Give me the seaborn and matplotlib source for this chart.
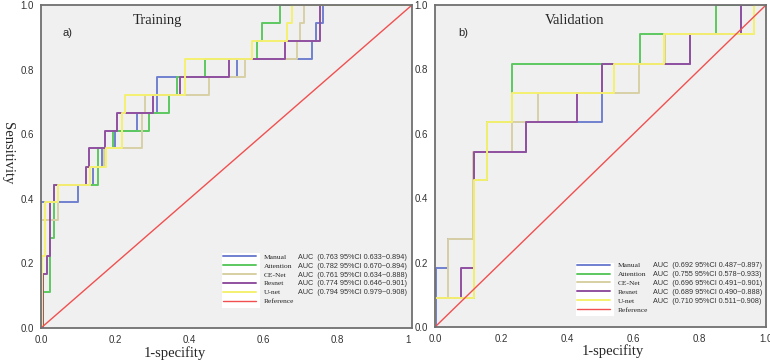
import numpy as np
import pandas as pd
import matplotlib
matplotlib.use("Agg")
import matplotlib.pyplot as plt
import seaborn as sns
from matplotlib.patches import Rectangle
from matplotlib.transforms import Bbox, TransformedBbox

# ---------------- data ----------------
models = ["Manual", "Attention", "CE-Net", "Resnet", "U-net"]

# Training ROC corner points (fpr, tpr) – steps-post
manual_tr_fpr = [0, 0, 0.099, 0.141, 0.165, 0.200, 0.260, 0.312, 0.527, 0.730, 0.742, 0.761, 1.0]
manual_tr_tpr = [0, 0.389, 0.444, 0.500, 0.556, 0.611, 0.667, 0.778, 0.833, 0.889, 0.944, 1.0, 1.0]
attention_tr_fpr = [0, 0, 0.024, 0.036, 0.153, 0.195, 0.291, 0.346, 0.366, 0.442, 0.581, 0.595, 0.644, 1.0]
attention_tr_tpr = [0, 0.111, 0.278, 0.444, 0.556, 0.611, 0.667, 0.722, 0.778, 0.833, 0.889, 0.944, 1.0, 1.0]
cenet_tr_fpr = [0, 0, 0.047, 0.132, 0.171, 0.271, 0.280, 0.454, 0.550, 0.689, 0.698, 0.709, 1.0]
cenet_tr_tpr = [0, 0.333, 0.444, 0.500, 0.556, 0.667, 0.722, 0.778, 0.833, 0.889, 0.944, 1.0, 1.0]
resnet_tr_fpr = [0, 0.006, 0.015, 0.024, 0.035, 0.121, 0.130, 0.173, 0.206, 0.303, 0.375, 0.508, 0.658, 0.752, 1.0]
resnet_tr_tpr = [0, 0.167, 0.222, 0.389, 0.444, 0.500, 0.556, 0.611, 0.667, 0.722, 0.778, 0.833, 0.889, 1.0, 1.0]
unet_tr_fpr = [0, 0.003, 0.011, 0.047, 0.132, 0.175, 0.217, 0.226, 0.388, 0.570, 0.662, 0.677, 1.0]
unet_tr_tpr = [0, 0.222, 0.389, 0.444, 0.500, 0.556, 0.667, 0.722, 0.833, 0.889, 0.944, 1.0, 1.0]

# Validation ROC corner points
manual_va_fpr = [0, 0.003, 0.040, 0.119, 0.274, 0.504, 0.770, 0.923, 1.0]
manual_va_tpr = [0, 0.182, 0.273, 0.545, 0.636, 0.818, 0.909, 1.0, 1.0]
attention_va_fpr = [0, 0, 0.119, 0.158, 0.234, 0.619, 0.849, 1.0]
attention_va_tpr = [0, 0.091, 0.455, 0.636, 0.818, 0.909, 1.0, 1.0]
cenet_va_fpr = [0, 0, 0.040, 0.116, 0.234, 0.310, 0.617, 0.695, 0.964, 1.0]
cenet_va_tpr = [0, 0.091, 0.273, 0.545, 0.636, 0.727, 0.818, 0.909, 1.0, 1.0]
resnet_va_fpr = [0, 0, 0.080, 0.119, 0.274, 0.428, 0.504, 0.770, 0.923, 1.0]
resnet_va_tpr = [0, 0.091, 0.182, 0.545, 0.636, 0.727, 0.818, 0.909, 1.0, 1.0]
unet_va_fpr = [0, 0, 0.119, 0.158, 0.234, 0.542, 0.693, 0.964, 1.0]
unet_va_tpr = [0, 0.091, 0.455, 0.636, 0.727, 0.818, 0.909, 1.0, 1.0]

ref_x = [0, 1]
ref_y = [0, 1]

auc_train = ["AUC  (0.763 95%CI 0.633~0.894)", "AUC  (0.782 95%CI 0.670~0.894)",
             "AUC  (0.761 95%CI 0.634~0.888)", "AUC  (0.774 95%CI 0.646~0.901)",
             "AUC  (0.794 95%CI 0.979~0.908)"]
auc_valid = ["AUC  (0.692 95%CI 0.487~0.897)", "AUC  (0.755 95%CI 0.578~0.933)",
             "AUC  (0.696 95%CI 0.491~0.901)", "AUC  (0.689 95%CI 0.490~0.888)",
             "AUC  (0.710 95%CI 0.511~0.908)"]

ticks = [0.0, 0.2, 0.4, 0.6, 0.8, 1.0]
tick_labels = ["0.0", "0.2", "0.4", "0.6", "0.8", "1.0"]

colors = {"Manual": "#7080d0", "Attention": "#5cc860", "CE-Net": "#d8d0a4",
          "Resnet": "#9050a0", "U-net": "#f4f070", "Reference": "#f05050"}

train = {"Manual": (manual_tr_fpr, manual_tr_tpr), "Attention": (attention_tr_fpr, attention_tr_tpr),
         "CE-Net": (cenet_tr_fpr, cenet_tr_tpr), "Resnet": (resnet_tr_fpr, resnet_tr_tpr),
         "U-net": (unet_tr_fpr, unet_tr_tpr)}
valid = {"Manual": (manual_va_fpr, manual_va_tpr), "Attention": (attention_va_fpr, attention_va_tpr),
         "CE-Net": (cenet_va_fpr, cenet_va_tpr), "Resnet": (resnet_va_fpr, resnet_va_tpr),
         "U-net": (unet_va_fpr, unet_va_tpr)}


def to_df(d):
    rows = []
    for m in models:
        fx, ty = d[m]
        for a, b in zip(fx, ty):
            rows.append({"model": m, "fpr": a, "tpr": b})
    return pd.DataFrame(rows)


sns.set_style("white")
plt.rcParams["font.family"] = ["DejaVu Sans"]
SERIF = ["Liberation Serif", "DejaVu Serif"]
SANS = ["Liberation Sans", "DejaVu Sans"]

fig = plt.figure(figsize=(7.7, 3.61), dpi=100)
W, H = 770, 361
ax1 = fig.add_axes([41 / W, 1 - 328 / H, 371 / W, 323 / H])
ax2 = fig.add_axes([435 / W, 1 - 327 / H, 331 / W, 322 / H])

panels = [
    (ax1, train, auc_train, "Training", "a)", 0.315, 0.057, (0.490, 0.231), (0.487, 0.061, 0.103, 0.172), 298),
    (ax2, valid, auc_valid, "Validation", "b)", 0.423, 0.069, (0.428, 0.202), (0.426, 0.035, 0.115, 0.165), 652.7),
]

leg_info = []
for ax, data, aucs, title, tag, tx, tagx, leg_anchor, rect, auc_x in panels:
    ax.set_facecolor("#f0f0f0")
    df = to_df(data)
    sns.lineplot(data=df, x="fpr", y="tpr", hue="model", hue_order=models,
                 palette=colors, estimator=None, sort=False, drawstyle="steps-post",
                 linewidth=1.4, legend=False, ax=ax)
    sns.lineplot(x=ref_x, y=ref_y, color=colors["Reference"], linewidth=1.0, ax=ax)
    ax.set_xlim(0, 1)
    ax.set_ylim(0, 1)
    ax.set_xticks(ticks)
    ax.set_xticklabels(tick_labels, fontfamily=SANS, fontsize=7, color="#333333")
    ax.set_yticks(ticks)
    ax.set_yticklabels(tick_labels, fontfamily=SANS, fontsize=7, color="#333333")
    ax.tick_params(axis="both", direction="out", length=3.5, width=0.9, color="#555555", pad=1.5)
    for s in ax.spines.values():
        s.set_color("#707070")
        s.set_linewidth(1.3)
    ax.set_xlabel("1-specifity", fontfamily=SERIF, fontsize=10.5)
    ax.set_ylabel("")
    ax.text(tx, 0.953, title, ha="center", va="center", fontfamily=SERIF, fontsize=10.5)
    ax.text(tagx, 0.913, tag, ha="left", va="center", fontfamily=SANS, fontsize=8)

    # legend
    ax.add_patch(Rectangle((rect[0], rect[1]), rect[2], rect[3], transform=ax.transAxes,
                           facecolor="white", edgecolor="none", zorder=4))
    handles = ax.get_lines()[:6]
    labels = models + ["Reference"]
    leg = ax.legend(handles, labels, loc="upper left", bbox_to_anchor=leg_anchor,
                    frameon=False, borderpad=0, borderaxespad=0,
                    handlelength=4.4, handletextpad=1.1, labelspacing=0.36,
                    prop={"family": SERIF, "size": 5.4})
    leg.set_zorder(5)
    leg_info.append((leg, aucs, auc_x))

ax1.xaxis.set_label_coords(0.361, -0.055)
ax2.xaxis.set_label_coords(0.538, -0.055)
ax1.set_ylabel("Sensitivity", fontfamily=SERIF, fontsize=10.5, rotation=270)
ax1.yaxis.set_label_coords(-0.108, 0.54)

fig.canvas.draw()
for leg, aucs, auc_x in leg_info:
    texts = leg.get_texts()
    for t, s in zip(texts[:5], aucs):
        bb = t.get_window_extent()
        yc = (bb.y0 + bb.y1) / 2
        fig.text(auc_x / W, yc / fig.bbox.height, s, ha="left", va="center",
                 fontfamily=SANS, fontsize=5.2, color="#333333", zorder=6)

clip = TransformedBbox(Bbox([[0, 0], [411 / W, 1]]), fig.transFigure)
for lbl in ax1.get_xticklabels():
    lbl.set_clip_on(True)
    lbl.set_clip_box(clip)

fig.savefig("out.png", dpi=100, facecolor="white")
